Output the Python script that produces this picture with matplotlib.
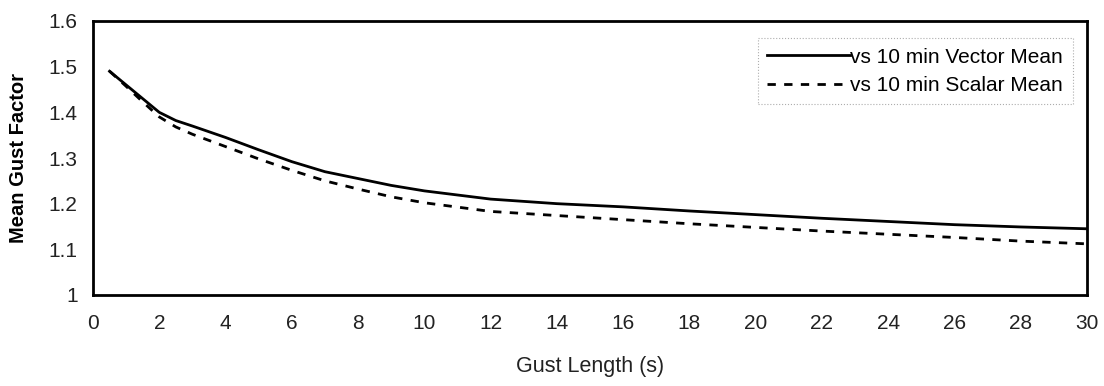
import matplotlib
matplotlib.use("Agg")
import matplotlib.pyplot as plt

plt.rcParams["font.family"] = ["Liberation Sans", "DejaVu Sans"]

# gust length (s)
gust_len = [0.5, 1, 1.5, 2, 2.5, 3, 4, 5, 6, 7, 8, 9, 10,
            12, 14, 16, 18, 20, 22, 24, 26, 28, 30]
vector_mean = [1.49, 1.46, 1.43, 1.40, 1.382, 1.37, 1.345, 1.318, 1.292, 1.27,
               1.255, 1.24, 1.228, 1.21, 1.20, 1.193, 1.184, 1.176, 1.168,
               1.161, 1.154, 1.149, 1.145]
scalar_mean = [1.49, 1.457, 1.423, 1.39, 1.368, 1.352, 1.325, 1.298, 1.273, 1.25,
               1.232, 1.215, 1.202, 1.183, 1.174, 1.165, 1.156, 1.148, 1.14,
               1.133, 1.126, 1.118, 1.112]
x_ticks = list(range(0, 31, 2))
y_ticks = [1, 1.1, 1.2, 1.3, 1.4, 1.5, 1.6]

fig = plt.figure(figsize=(11.04, 3.86), dpi=100)
ax = fig.add_axes([93 / 1104, 1 - 295 / 386, (1087 - 93) / 1104, (295 - 21) / 386])

ax.plot(gust_len, vector_mean, color="black", lw=2, label="vs 10 min Vector Mean")
ax.plot(gust_len, scalar_mean, color="black", lw=2, linestyle=(0, (3, 3)),
        label="vs 10 min Scalar Mean")

ax.set_xlim(0, 30)
ax.set_ylim(1, 1.6)
ax.set_xticks(x_ticks)
ax.set_xticklabels([str(t) for t in x_ticks])
ax.set_yticks(y_ticks)
ax.set_yticklabels(["1", "1.1", "1.2", "1.3", "1.4", "1.5", "1.6"])
ax.tick_params(length=0, labelsize=15, colors="#222222")
ax.tick_params(axis="x", pad=14)
ax.tick_params(axis="y", pad=11)
for s in ax.spines.values():
    s.set_linewidth(2)

ax.set_xlabel("Gust Length (s)", fontsize=15.5, labelpad=16, color="#222222")
ax.set_ylabel("Mean Gust Factor", fontsize=14.5, fontweight="bold", labelpad=15)

leg = ax.legend(loc="upper right", bbox_to_anchor=(0.996, 0.975), fontsize=15,
                handlelength=4.0, handletextpad=0.0, borderpad=0.45,
                labelspacing=0.45, fancybox=False, frameon=True)
leg.get_frame().set_edgecolor("#999999")
leg.get_frame().set_linestyle(":")
leg.get_frame().set_linewidth(0.8)

fig.savefig("out.png", dpi=100)
